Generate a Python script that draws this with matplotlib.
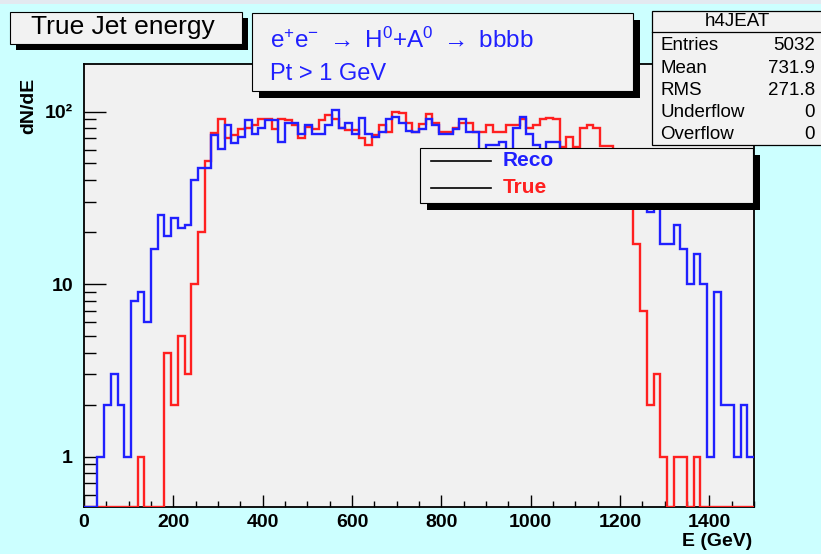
import numpy as np
import matplotlib
matplotlib.use("Agg")
import matplotlib.pyplot as plt
from matplotlib import font_manager
from matplotlib.patches import Rectangle
from matplotlib.ticker import FixedLocator, FuncFormatter


def pick_font(candidates):
    for name in candidates:
        try:
            font_manager.findfont(name, fallback_to_default=False)
            return name
        except ValueError:
            continue
    return "DejaVu Sans"


NARROW = pick_font(["Liberation Sans Narrow", "Liberation Sans", "DejaVu Sans"])
plt.rcParams["font.family"] = [NARROW, "DejaVu Sans"]
plt.rcParams["mathtext.fontset"] = "custom"
plt.rcParams["mathtext.rm"] = NARROW
plt.rcParams["mathtext.it"] = NARROW
plt.rcParams["mathtext.bf"] = NARROW + ":bold"

# ---------------------------------------------------------------- data
E_MIN, E_MAX, N_BINS = 0.0, 1500.0, 100          # 15 GeV bins

reco_counts = [
    0, 0, 1, 2, 3, 2, 1, 8, 9, 6,
    16, 25, 19, 24, 21, 22, 40, 47, 47, 73,
    61, 84, 66, 71, 89, 74, 80, 89, 89, 67,
    86, 86, 74, 83, 74, 74, 84, 102, 80, 86,
    74, 92, 74, 71, 76, 91, 93, 86, 77, 76,
    79, 90, 83, 74, 74, 79, 90, 76, 76, 55,
    64, 64, 67, 60, 80, 93, 74, 64, 55, 67,
    67, 52, 48, 56, 50, 45, 52, 44, 47, 40,
    42, 38, 34, 30, 26, 32, 17, 17, 22, 16,
    10, 15, 10, 1, 9, 2, 2, 1, 2, 1,
]

true_counts = [
    0, 0, 0, 0, 0, 0, 0, 0, 1, 0,
    0, 0, 4, 2, 5, 3, 10, 20, 52, 75,
    91, 70, 73, 79, 80, 84, 90, 90, 79, 90,
    89, 84, 70, 81, 79, 89, 95, 90, 80, 78,
    78, 70, 64, 73, 83, 76, 100, 98, 86, 76,
    85, 97, 86, 76, 76, 80, 86, 86, 76, 76,
    84, 76, 76, 84, 84, 90, 80, 84, 90, 92,
    90, 62, 71, 62, 80, 84, 80, 63, 63, 48,
    42, 36, 17, 7, 2, 3, 1, 0, 1, 1,
    0, 1, 0, 0, 0, 0, 0, 0, 0, 0,
]

x_ticks = [0, 200, 400, 600, 800, 1000, 1200, 1400]
y_major = [10, 100]
y_labels = {1: "1", 10: "10", 100: "10²"}

stats_name = "h4JEAT"
stats_rows = [("Entries", "5032"), ("Mean", "731.9"), ("RMS", "271.8"),
              ("Underflow", "0"), ("Overflow", "0")]

title_text = "True Jet energy"
process_line = r"e$^{+}$e$^{-}$ $\rightarrow$ H$^{0}$+A$^{0}$ $\rightarrow$ bbbb"
cut_line = "Pt > 1 GeV"
legend_entries = [("Reco", "#2020ff"), ("True", "#ff2020")]

# ---------------------------------------------------------------- canvas
W, H = 821, 554
BG = "#ccffff"
PANEL = "#f2f2f2"
BLUE = "#2020ff"
RED = "#ff2020"

fig = plt.figure(figsize=(W / 100, H / 100), dpi=100, facecolor=BG)


def fx(x):
    return x / W


def fy(y):
    return 1 - y / H


def add_rect(x0, y0, x1, y1, fc, ec="none", lw=0.0, z=2):
    r = Rectangle((fx(x0), fy(y1)), (x1 - x0) / W, (y1 - y0) / H,
                  transform=fig.transFigure, fc=fc, ec=ec, lw=lw, zorder=z)
    fig.patches.append(r)
    return r


def shadow_box(x0, y0, x1, y1, off=6, z=2):
    add_rect(x0 + off, y0 + off, x1 + off, y1 + off, "black", z=z)
    add_rect(x0, y0, x1, y1, PANEL, ec="black", lw=0.8, z=z + 0.1)


# thin strip along the top edge of the canvas
add_rect(0, 0, W, 4, "#e3e9f0", z=0.5)

# ---------------------------------------------------------------- frame
ax = fig.add_axes([fx(84), fy(507), (754 - 84) / W, (507 - 64) / H])
ax.set_facecolor("#f1f1f1")
ax.set_yscale("log")
Y_LO, Y_HI = 0.51, 188.6
ax.set_xlim(E_MIN, E_MAX)
ax.set_ylim(Y_LO, Y_HI)

edges = np.linspace(E_MIN, E_MAX, N_BINS + 1)
true_arr = np.asarray(true_counts, dtype=float)
reco_arr = np.asarray(reco_counts, dtype=float)
# empty bins are drawn along the bottom of the frame, as on a log axis
true_plot = np.where(true_arr > 0, true_arr, Y_LO)
reco_plot = np.where(reco_arr > 0, reco_arr, Y_LO)

ax.stairs(true_plot, edges, baseline=None, color=RED, lw=1.7, zorder=3)
ax.stairs(reco_plot, edges, baseline=None, color=BLUE, lw=1.7, zorder=4)

for s in ax.spines.values():
    s.set_color("black")
    s.set_linewidth(1.3)

ax.xaxis.set_major_locator(FixedLocator(x_ticks))
ax.xaxis.set_minor_locator(FixedLocator(np.arange(0, 1501, 50)))
ax.tick_params(axis="x", which="major", direction="in", length=8.5, width=1.0,
               labelsize=14, pad=5, top=False)
ax.tick_params(axis="x", which="minor", direction="in", length=4.0, width=1.0, top=False)

minor_y = [v * 10 ** d for d in (-1, 0, 1, 2) for v in range(1, 10)
           if Y_LO <= v * 10 ** d <= Y_HI and v * 10 ** d not in (10, 100)]
ax.yaxis.set_major_locator(FixedLocator(y_major))
ax.yaxis.set_minor_locator(FixedLocator(minor_y))
ax.yaxis.set_major_formatter(FuncFormatter(lambda v, p: y_labels.get(int(round(v)), "")))
ax.yaxis.set_minor_formatter(FuncFormatter(
    lambda v, p: y_labels[1] if abs(v - 1) < 1e-9 else ""))
ax.tick_params(axis="y", which="major", direction="in", length=15.5, width=1.0,
               labelsize=14, pad=8, right=False)
ax.tick_params(axis="y", which="minor", direction="in", length=8.5, width=1.0,
               labelsize=14, pad=8, right=False)
for lab in ax.get_xticklabels() + ax.get_yticklabels() + ax.get_yticklabels(minor=True):
    lab.set_fontweight("bold")

fig.text(fx(752), fy(541), "E (GeV)", ha="right", va="center",
         fontsize=14, fontweight="bold")
fig.text(fx(29), fy(106), "dN/dE", ha="center", va="center", rotation=90,
         fontsize=14, fontweight="bold")

# ---------------------------------------------------------------- title box
shadow_box(10, 12, 242, 44, off=6)
fig.text(fx(123), fy(27), title_text, ha="center", va="center",
         fontsize=19, zorder=5)

# ---------------------------------------------------------------- process box
shadow_box(252, 13, 633, 91, off=7)
fig.text(fx(270), fy(40), process_line, ha="left", va="center",
         fontsize=17.5, color=BLUE, zorder=5)
fig.text(fx(270), fy(74), cut_line, ha="left", va="center",
         fontsize=17, color=BLUE, zorder=5)

# ---------------------------------------------------------------- stats box
SX0, SY0, SX1, SY1 = 652, 11, 826, 145
add_rect(SX0, SY0, SX1, SY1, PANEL, ec="black", lw=0.9, z=2)
fig.lines.append(plt.Line2D([fx(SX0), fx(SX1)], [fy(32), fy(32)],
                            transform=fig.transFigure, color="black", lw=0.9, zorder=3))
fig.text(fx(737), fy(21), stats_name, ha="center", va="center", fontsize=13.5, zorder=5)
for i, (name, val) in enumerate(stats_rows):
    yy = 46 + i * 22.2
    fig.text(fx(660), fy(yy), name, ha="left", va="center", fontsize=13.5, zorder=5)
    fig.text(fx(815), fy(yy), val, ha="right", va="center", fontsize=13.5, zorder=5)

# ---------------------------------------------------------------- legend
shadow_box(420, 148, 753, 203, off=7)
for i, (label, col) in enumerate(legend_entries):
    yy = 161 + i * 27
    fig.lines.append(plt.Line2D([fx(431), fx(491)], [fy(yy), fy(yy)],
                                transform=fig.transFigure, color="black",
                                lw=1.2, zorder=5))
    fig.text(fx(503), fy(yy), label, ha="left", va="center", fontsize=15,
             fontweight="bold", color=col, zorder=5)

fig.savefig("out.png", dpi=100, facecolor=BG)
